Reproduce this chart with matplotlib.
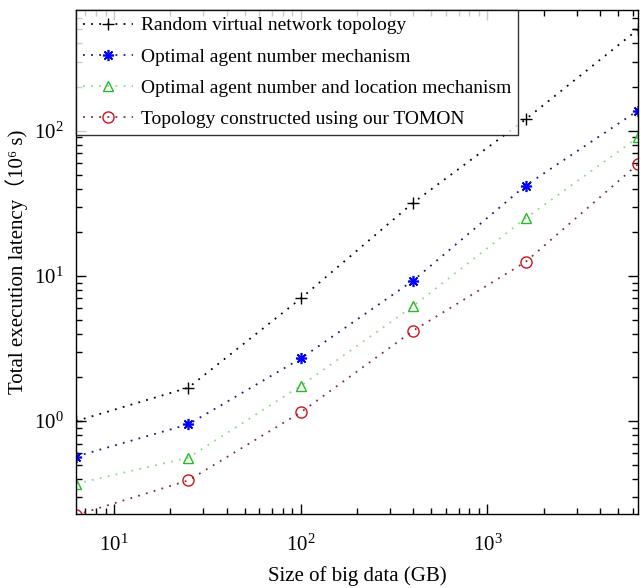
import numpy as np
import matplotlib
matplotlib.use('Agg')
import matplotlib.pyplot as plt

plt.rcParams['font.family'] = ['Liberation Serif', 'Noto Sans CJK SC']
plt.rcParams['mathtext.fontset'] = 'stix'

# data
size_gb = [6.25, 25, 100, 400, 1600, 6400]
random_topo = [1.0, 1.7, 7.0, 32, 120, 500]
agent_num = [0.57, 0.95, 2.7, 9.3, 42, 138]
agent_num_loc = [0.37, 0.56, 1.75, 6.2, 25, 90]
tomon = [0.225, 0.39, 1.15, 4.2, 12.5, 59]

labels = ['Random virtual network topology',
          'Optimal agent number mechanism',
          'Optimal agent number and location mechanism',
          'Topology constructed using our TOMON']

fig = plt.figure(figsize=(6.41, 5.88), dpi=100)
ax = fig.add_axes([0.1186, 0.1259, 0.8767, 0.857])

dots = (0, (1, 3.5))
ax.loglog(size_gb, random_topo, ls=dots, color='k', marker='+', ms=9, mew=1.0, lw=1.3, label=labels[0])
ax.loglog(size_gb, agent_num, ls=dots, color='#1a1a70', marker=(8, 2, 0), ms=8, mew=1.2, mec='b', lw=1.3, label=labels[1])
ax.loglog(size_gb, agent_num_loc, ls=dots, color='#90d890', marker='^', ms=7, mfc='none', mec='#22bb22', lw=1.3, label=labels[2])
ax.loglog(size_gb, tomon, ls=dots, color='#803030', marker='o', ms=8, mfc='none', mec='#d01020', lw=1.3, label=labels[3])

ax.set_xlim(6.25, 6400)
ax.set_ylim(0.229, 680)

ax.tick_params(which='both', direction='in', top=True, right=True, labelsize=15)
ax.tick_params(which='major', length=7, width=1)
ax.tick_params(which='minor', length=4, width=1)
ax.tick_params(axis='x', which='major', pad=15)
ax.tick_params(axis='y', which='major', pad=9)
for s in ax.spines.values():
    s.set_linewidth(1.0)

ax.set_xlabel('Size of big data (GB)', fontsize=15, labelpad=7)
ax.set_ylabel('Total execution latency（10⁶ s)', fontsize=15, labelpad=4)

leg = ax.legend(loc='upper left', bbox_to_anchor=(0, 1), fontsize=14,
                frameon=True, fancybox=False, edgecolor='k', borderaxespad=0,
                handlelength=2.6, handletextpad=0.4, labelspacing=0.7, borderpad=0.35)
leg.get_frame().set_linewidth(1.0)

fig.savefig('out.png', dpi=100)
